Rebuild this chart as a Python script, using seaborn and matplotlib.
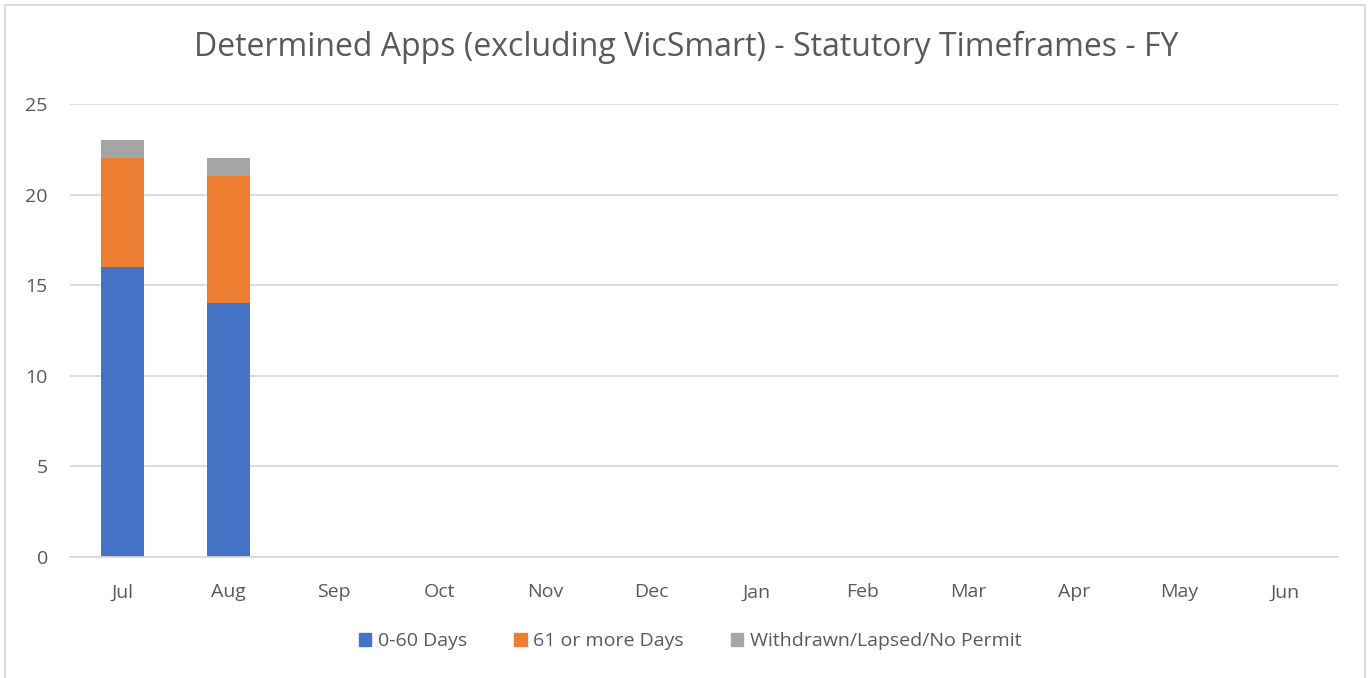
import matplotlib
matplotlib.use("Agg")

import numpy as np
import pandas as pd
import matplotlib.pyplot as plt
import matplotlib.patches as mpatches
import seaborn as sns

# data
months = ["Jul", "Aug", "Sep", "Oct", "Nov", "Dec",
          "Jan", "Feb", "Mar", "Apr", "May", "Jun"]
days_0_60 = [16, 14, 0, 0, 0, 0, 0, 0, 0, 0, 0, 0]
days_61_plus = [6, 7, 0, 0, 0, 0, 0, 0, 0, 0, 0, 0]
withdrawn = [1, 1, 0, 0, 0, 0, 0, 0, 0, 0, 0, 0]
series_names = ["0-60 Days", "61 or more Days", "Withdrawn/Lapsed/No Permit"]
colors = ["#4472C4", "#ED7D31", "#A5A5A5"]

sns.set_style("white")
plt.rcParams["font.family"] = ["Open Sans", "DejaVu Sans"]

text_color = "#595959"

fig = plt.figure(figsize=(13.72, 6.78), dpi=100)
ax = fig.add_axes([70 / 1372, 1 - 557 / 678, 1268 / 1372, 453 / 678])

df = pd.DataFrame({
    "Month": months,
    series_names[0]: days_0_60,
    series_names[1]: days_61_plus,
    series_names[2]: withdrawn,
})

bottom = np.zeros(len(months))
for name, color in zip(series_names, colors):
    sns.barplot(
        data=df,
        x="Month",
        y=name,
        bottom=bottom,
        color=color,
        saturation=1,
        width=0.41,
        ax=ax,
        linewidth=0,
    )
    bottom = bottom + df[name].to_numpy()

ax.set_ylim(0, 25)
ax.set_xlim(-0.5, 11.5)
ax.set_yticks([0, 5, 10, 15, 20, 25])
ax.yaxis.grid(True, color="#D9D9D9", linewidth=1.3)
ax.set_axisbelow(True)
for side in ["top", "right", "left"]:
    ax.spines[side].set_visible(False)
ax.spines["bottom"].set_color("#D9D9D9")
ax.spines["bottom"].set_linewidth(1.3)
ax.set_xlabel("")
ax.set_ylabel("")
ax.tick_params(axis="both", length=0, labelsize=14, labelcolor=text_color)
ax.tick_params(axis="x", pad=19)
ax.tick_params(axis="y", pad=16)

fig.text(
    0.5, 1 - 47 / 678,
    "Determined Apps (excluding VicSmart) - Statutory Timeframes - FY",
    ha="center", va="center", fontsize=23, color=text_color,
)

handles = [mpatches.Patch(color=c, label=n) for n, c in zip(series_names, colors)]
fig.legend(
    handles=handles,
    loc="center",
    bbox_to_anchor=(0.503, 1 - 641 / 678),
    ncol=3,
    frameon=False,
    fontsize=14,
    labelcolor=text_color,
    handlelength=0.65,
    handleheight=0.65,
    handletextpad=0.35,
    columnspacing=2.4,
)

# outer chart frame
frame = mpatches.Rectangle(
    (5 / 1372, -0.1), 1360 / 1372, 1.1 - 5 / 678,
    transform=fig.transFigure, fill=False,
    edgecolor="#D9D9D9", linewidth=1.3,
)
fig.patches.append(frame)

fig.savefig("out.png", dpi=100)
